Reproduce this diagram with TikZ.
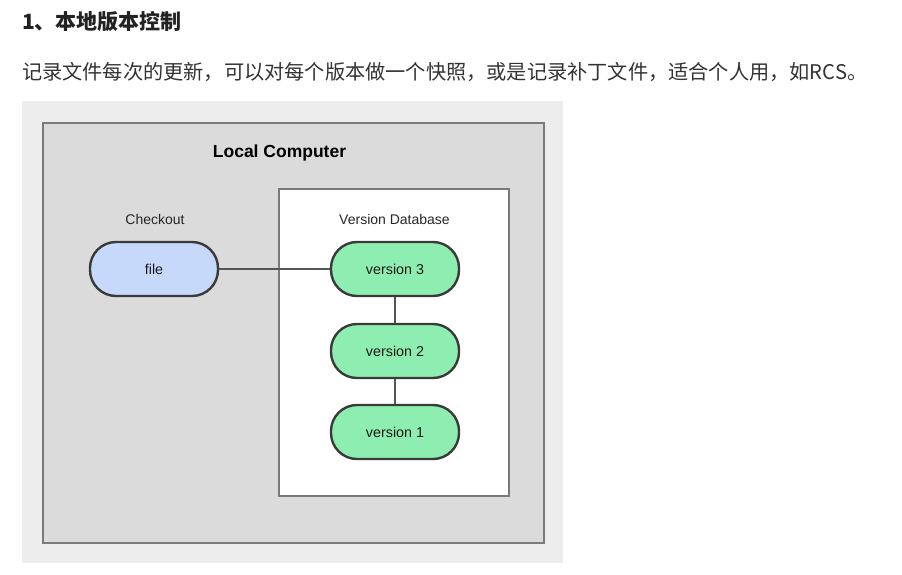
\documentclass[tikz,border=0pt]{standalone}
\usepackage{fontspec}
\setmainfont{Liberation Sans}
\newfontfamily\cjk{Noto Sans CJK SC}
\definecolor{pagebg}{HTML}{EDEDED}
\definecolor{compbg}{HTML}{DBDBDB}
\definecolor{boxline}{HTML}{7A7A7A}
\definecolor{pillline}{HTML}{3A3A3A}
\definecolor{fileblue}{HTML}{C7D9FA}
\definecolor{vergreen}{HTML}{8EEDB0}
\definecolor{linkgray}{HTML}{555555}
\definecolor{titletext}{HTML}{222222}
\definecolor{bodytext}{HTML}{333333}
\tikzset{
  panel/.style={draw=boxline, line width=1.6pt, inner sep=0pt},
  pill/.style={draw=pillline, line width=2.4pt, rounded corners=26pt,
    minimum width=128pt, minimum height=54pt, inner sep=0pt,
    font=\fontsize{14.3}{16}\selectfont, text=black!90},
  caption/.style={font=\fontsize{14}{16}\selectfont, text=black!85, inner sep=0pt},
  link/.style={draw=linkgray, line width=1.5pt}
}
\begin{document}
\begin{tikzpicture}[x=1pt,y=-1pt]
\useasboundingbox (0,0) rectangle (902,574);
\fill[white] (0,0) rectangle (902,574);
% text above
\node[anchor=west, inner sep=0pt, text=titletext, font=\cjk\bfseries\fontsize{21}{24}\selectfont] (title) at (22,22) {1、本地版本控制};
\node[anchor=west, inner sep=0pt, text=bodytext, font=\cjk\fontsize{20.2}{23}\selectfont] (body) at (22,72) {记录文件每次的更新，可以对每个版本做一个快照，或是记录补丁文件，适合个人用，如RCS。};
% figure background
\node[fill=pagebg, minimum width=541pt, minimum height=462pt, inner sep=0pt] (figbg) at (292.5,332) {};
\node[panel, fill=compbg, minimum width=501pt, minimum height=420pt] (computer) at (293.5,333) {};
\node[panel, fill=white, minimum width=230pt, minimum height=307pt] (database) at (394,342.5) {};
% labels
\node[inner sep=0pt, font=\bfseries\fontsize{17.5}{20}\selectfont] (lc) at (279.5,153) {Local Computer};
\node[caption] (checkout) at (155,219) {Checkout};
\node[caption] (vdb) at (394.5,219) {Version Database};
% pills
\node[pill, fill=fileblue] (file) at (154,269) {file};
\node[pill, fill=vergreen] (v3) at (395,269) {version 3};
\node[pill, fill=vergreen] (v2) at (395,351) {version 2};
\node[pill, fill=vergreen] (v1) at (395,432) {version 1};
% connectors
\draw[link] (file) -- (v3);
\draw[link] (v3) -- (v2);
\draw[link] (v2) -- (v1);
\end{tikzpicture}
\end{document}
